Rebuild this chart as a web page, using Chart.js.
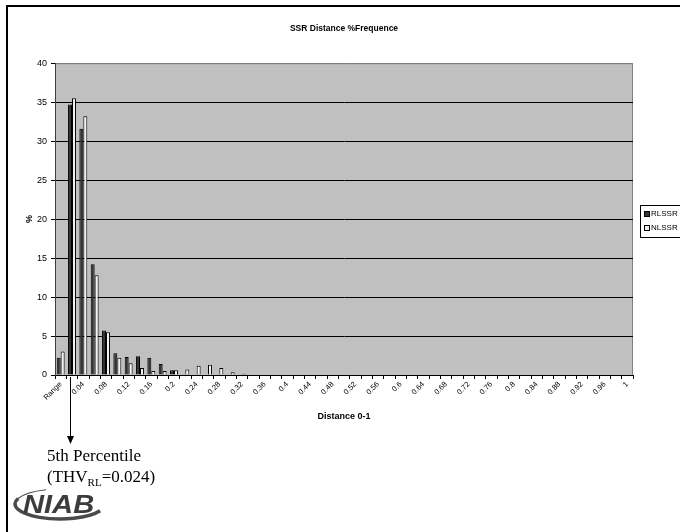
<!DOCTYPE html>
<html>
<head>
<meta charset="utf-8">
<title>SSR Distance %Frequence</title>
<script src="https://cdn.jsdelivr.net/npm/chart.js@4/dist/chart.umd.min.js"></script>
<style>
  html, body { margin: 0; padding: 0; background: #fff; }
  canvas { display: block; }
</style>
</head>
<body>
<canvas id="chart" width="680" height="532"></canvas>
<script>
// distance bins (0-1, step 0.02) plus the "Range" bin
const distanceBins = ['Range', '0.02', '0.04', '0.06', '0.08', '0.1', '0.12', '0.14', '0.16', '0.18',
    '0.2', '0.22', '0.24', '0.26', '0.28', '0.3', '0.32', '0.34', '0.36', '0.38',
    '0.4', '0.42', '0.44', '0.46', '0.48', '0.5', '0.52', '0.54', '0.56', '0.58',
    '0.6', '0.62', '0.64', '0.66', '0.68', '0.7', '0.72', '0.74', '0.76', '0.78',
    '0.8', '0.82', '0.84', '0.86', '0.88', '0.9', '0.92', '0.94', '0.96', '0.98', '1'];

// % frequency per bin
const rlssr = [2.2, 34.7, 31.6, 14.2, 5.7, 2.8, 2.3, 2.4, 2.2, 1.4,
    0.6, 0.1, 0, 0, 0, 0, 0, 0, 0, 0,
    0, 0, 0, 0, 0, 0, 0, 0, 0, 0,
    0, 0, 0, 0, 0, 0, 0, 0, 0, 0,
    0, 0, 0, 0, 0, 0, 0, 0, 0, 0, 0];
const nlssr = [3.0, 35.5, 33.2, 12.8, 5.5, 2.2, 1.5, 0.9, 0.5, 0.5,
    0.6, 0.7, 1.2, 1.3, 0.9, 0.35, 0.15, 0, 0, 0,
    0, 0, 0, 0, 0, 0, 0, 0, 0, 0,
    0, 0, 0, 0, 0, 0, 0, 0, 0, 0,
    0, 0, 0, 0, 0, 0, 0, 0, 0, 0, 0];

const seriesNames = ['RLSSR', 'NLSSR'];
const seriesColors = ['#333333', '#f2f2f2'];

const yTicks = {min: 0, max: 40, step: 5};

// 5th percentile marker, in category units along the x axis
const thresholdPos = 0.8;
const thresholdText = ['5th Percentile', '(THV', 'RL', '=0.024)'];

const SANS = "'Liberation Sans', Arial, sans-serif";
const SERIF = "'Liberation Serif', 'Times New Roman', serif";

const plotBackground = {
    id: 'plotBackground',
    beforeDraw(chart) {
        const {ctx, chartArea: a} = chart;
        ctx.save();
        ctx.fillStyle = '#c0c0c0';
        ctx.fillRect(a.left, a.top, a.right - a.left, a.bottom - a.top);
        ctx.strokeStyle = '#808080';
        ctx.lineWidth = 1;
        ctx.beginPath();
        ctx.moveTo(a.left, a.top + 0.5);
        ctx.lineTo(a.right - 0.5, a.top + 0.5);
        ctx.lineTo(a.right - 0.5, a.bottom);
        ctx.stroke();
        ctx.restore();
    }
};

const extras = {
    id: 'extras',
    afterDraw(chart) {
        const {ctx} = chart;
        const xs = chart.scales.x;
        ctx.save();

        // frame on the top and left edge
        ctx.strokeStyle = '#000';
        ctx.lineWidth = 2;
        ctx.beginPath();
        ctx.moveTo(7, 532);
        ctx.lineTo(7, 6);
        ctx.lineTo(680, 6);
        ctx.stroke();

        // legend, cut off by the right edge
        const lx = 640, ly = 205;
        ctx.fillStyle = '#fff';
        ctx.fillRect(lx, ly, 50, 32);
        ctx.lineWidth = 1;
        ctx.strokeRect(lx + 0.5, ly + 0.5, 50, 32);
        ctx.font = '8px ' + SANS;
        ctx.textBaseline = 'middle';
        seriesNames.forEach((name, i) => {
            const y = ly + 9 + i * 14;
            ctx.fillStyle = seriesColors[i];
            ctx.fillRect(lx + 4, y - 3, 5, 5);
            ctx.strokeStyle = '#000';
            ctx.strokeRect(lx + 4.5, y - 2.5, 5, 5);
            ctx.fillStyle = '#000';
            ctx.fillText(name, lx + 11, y);
        });

        // percentile arrow
        const ax = Math.round(xs.getPixelForValue(thresholdPos)) + 0.5;
        ctx.strokeStyle = '#000';
        ctx.lineWidth = 1;
        ctx.beginPath();
        ctx.moveTo(ax, xs.top + 2);
        ctx.lineTo(ax, 438);
        ctx.stroke();
        ctx.fillStyle = '#000';
        ctx.beginPath();
        ctx.moveTo(ax - 3.5, 436);
        ctx.lineTo(ax + 3.5, 436);
        ctx.lineTo(ax, 444);
        ctx.closePath();
        ctx.fill();

        ctx.textBaseline = 'alphabetic';
        ctx.font = '17px ' + SERIF;
        ctx.fillText(thresholdText[0], 47, 461);
        let tx = 47;
        ctx.fillText(thresholdText[1], tx, 482);
        tx += ctx.measureText(thresholdText[1]).width;
        ctx.font = '11px ' + SERIF;
        ctx.fillText(thresholdText[2], tx, 486);
        tx += ctx.measureText(thresholdText[2]).width;
        ctx.font = '17px ' + SERIF;
        ctx.fillText(thresholdText[3], tx, 482);

        // NIAB logo
        ctx.strokeStyle = '#4a4a4a';
        ctx.lineWidth = 3.5;
        ctx.beginPath();
        ctx.ellipse(60, 504, 45, 15, 0, Math.PI * 0.15, Math.PI * 1.12);
        ctx.stroke();
        ctx.lineWidth = 1.2;
        ctx.beginPath();
        ctx.ellipse(60, 504, 45, 15, 0, Math.PI * 1.12, Math.PI * 1.4);
        ctx.stroke();
        ctx.fillStyle = '#3c3c3c';
        ctx.font = 'italic bold 26px ' + SANS;
        ctx.save();
        ctx.translate(23, 513);
        ctx.scale(1.12, 1);
        ctx.fillText('NIAB', 0, 0);
        ctx.restore();

        ctx.restore();
    }
};

new Chart(document.getElementById('chart'), {
    type: 'bar',
    data: {
        labels: distanceBins,
        datasets: [
            {
                label: seriesNames[0],
                data: rlssr,
                backgroundColor: seriesColors[0],
                borderColor: '#000',
                borderWidth: 1
            },
            {
                label: seriesNames[1],
                data: nlssr,
                backgroundColor: seriesColors[1],
                borderColor: '#000',
                borderWidth: 1
            }
        ]
    },
    options: {
        responsive: false,
        animation: false,
        layout: {
            padding: {left: 8, right: 47, top: 0, bottom: 0}
        },
        datasets: {
            bar: {
                categoryPercentage: 0.7,
                barPercentage: 1.0
            }
        },
        plugins: {
            legend: {display: false},
            tooltip: {enabled: false},
            title: {
                display: true,
                fullSize: false,
                text: 'SSR Distance %Frequence',
                color: '#000',
                font: {family: SANS, size: 8.5, weight: 'bold'},
                padding: {top: 24, bottom: 29}
            }
        },
        scales: {
            x: {
                afterFit(scale) {
                    scale.height = 157;
                },
                grid: {
                    offset: true,
                    drawOnChartArea: false,
                    tickLength: 4,
                    color: '#000'
                },
                border: {color: '#000', width: 1},
                ticks: {
                    autoSkip: false,
                    minRotation: 45,
                    maxRotation: 45,
                    padding: 1,
                    color: '#000',
                    font: {family: SANS, size: 7.5},
                    callback: (value, i) => i % 2 === 0 ? distanceBins[i] : ''
                },
                title: {
                    display: true,
                    text: 'Distance 0-1',
                    color: '#000',
                    font: {family: SANS, size: 9, weight: 'bold'},
                    padding: {top: 0, bottom: 110}
                }
            },
            y: {
                min: yTicks.min,
                max: yTicks.max,
                afterFit(scale) {
                    scale.width = 47;
                },
                grid: {
                    color: ctx => ctx.tick && ctx.tick.value === yTicks.max ? '#808080' : '#000',
                    tickColor: '#000',
                    tickLength: 4
                },
                border: {color: '#404040', width: 1},
                ticks: {
                    stepSize: yTicks.step,
                    padding: 4,
                    color: '#000',
                    font: {family: SANS, size: 9}
                },
                title: {
                    display: true,
                    text: '%',
                    color: '#000',
                    font: {family: SANS, size: 9, weight: 'bold'},
                    padding: {top: 16, bottom: 0}
                }
            }
        }
    },
    plugins: [plotBackground, extras]
});
</script>
</body>
</html>
